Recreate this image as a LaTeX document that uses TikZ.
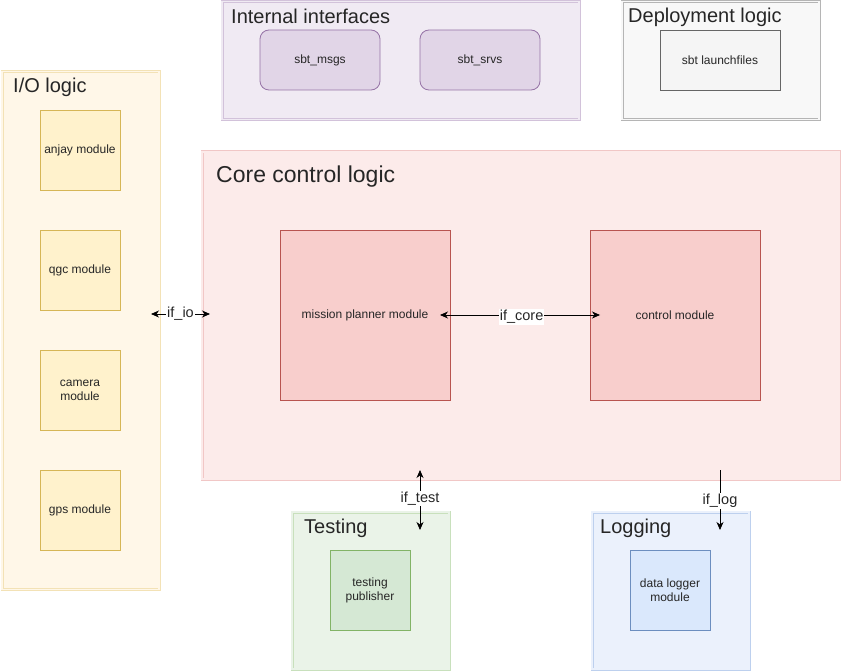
\documentclass[tikz,border=0pt]{standalone}
\usepackage{fontspec}
\setmainfont{Liberation Sans}
\usetikzlibrary{arrows.meta}
\definecolor{igF}{HTML}{F0EAF3}\definecolor{igB}{HTML}{D2C2DA}
\definecolor{dgF}{HTML}{F8F8F8}\definecolor{dgB}{HTML}{B5B5B5}
\definecolor{ioF}{HTML}{FFF7E8}\definecolor{ioB}{HTML}{F3E2B6}
\definecolor{coF}{HTML}{FCEBEA}\definecolor{coB}{HTML}{F1C7C6}
\definecolor{teF}{HTML}{EAF3E8}\definecolor{teB}{HTML}{C8E0BC}
\definecolor{loF}{HTML}{EBF1FC}\definecolor{loB}{HTML}{BDD0EE}
\definecolor{puF}{HTML}{E1D5E7}\definecolor{puB}{HTML}{9673A6}
\definecolor{grF}{HTML}{F5F5F5}\definecolor{grB}{HTML}{666666}
\definecolor{yeF}{HTML}{FFF2CC}\definecolor{yeB}{HTML}{D6B656}
\definecolor{reF}{HTML}{F8CECC}\definecolor{reB}{HTML}{B85450}
\definecolor{gnF}{HTML}{D5E8D4}\definecolor{gnB}{HTML}{82B366}
\definecolor{blF}{HTML}{DAE8FC}\definecolor{blB}{HTML}{6C8EBF}
\tikzset{
  grp/.style 2 args={draw=#2, fill=#1, double=#1, double distance=1.6pt, line width=0.7pt, inner sep=0pt},
  mod/.style 2 args={draw=#2, fill=#1, line width=0.8pt, inner sep=2pt, align=center, font=\fontsize{12}{14}\selectfont, text=black!85},
  gtitle/.style={anchor=base west, inner sep=0pt, font=\fontsize{20}{23}\selectfont, text=black!85},
  elab/.style={fill=white, inner sep=1pt, font=\fontsize{14.5}{16}\selectfont, text=black!85},
  conn/.style={line width=0.8pt, black},
  tip/.tip={Stealth[length=8pt,width=7pt,inset=2.5pt]}
}
\begin{document}
\begin{tikzpicture}[x=1pt,y=-1pt]
\useasboundingbox[fill=white] (0,0) rectangle (841,671);
% groups
\node[grp={igF}{igB}, minimum width=357pt, minimum height=118pt] (gint) at (400.5,60.5) {};
\node[grp={dgF}{dgB}, minimum width=197pt, minimum height=118pt] (gdep) at (720.5,60.5) {};
\node[grp={ioF}{ioB}, minimum width=157pt, minimum height=518pt] (gio) at (80.5,330.5) {};
\node[grp={coF}{coB}, minimum width=637pt, minimum height=327pt] (gcore) at (520.5,315.5) {};
\node[grp={teF}{teB}, minimum width=157pt, minimum height=157pt] (gtest) at (370.5,590.5) {};
\node[grp={loF}{loB}, minimum width=157pt, minimum height=157pt] (glog) at (670.5,590.5) {};
% titles
\node[gtitle] (tint) at (231,24) {Internal interfaces};
\node[gtitle] (tdep) at (628,23) {Deployment logic};
\node[gtitle] (tio) at (13,93) {I/O logic};
\node[gtitle, font=\fontsize{23}{26}\selectfont] (tcore) at (216,183) {Core control logic};
\node[gtitle] (ttest) at (304,533) {Testing};
\node[gtitle] (tlog) at (600,533) {Logging};
% modules
\node[mod={puF}{puB}, rounded corners=9pt, minimum width=120pt, minimum height=60pt] (msgs) at (320,60) {sbt\_msgs};
\node[mod={puF}{puB}, rounded corners=9pt, minimum width=120pt, minimum height=60pt] (srvs) at (480,60) {sbt\_srvs};
\node[mod={grF}{grB}, minimum width=120pt, minimum height=60pt] (launch) at (720,60) {sbt launchfiles};
\node[mod={yeF}{yeB}, minimum width=80pt, minimum height=80pt] (anjay) at (80,150) {anjay module};
\node[mod={yeF}{yeB}, minimum width=80pt, minimum height=80pt] (qgc) at (80,270) {qgc module};
\node[mod={yeF}{yeB}, minimum width=80pt, minimum height=80pt] (camera) at (80,390) {camera\\module};
\node[mod={yeF}{yeB}, minimum width=80pt, minimum height=80pt] (gps) at (80,510) {gps module};
\node[mod={reF}{reB}, minimum width=170pt, minimum height=170pt] (mission) at (365,315) {mission planner module};
\node[mod={reF}{reB}, minimum width=170pt, minimum height=170pt] (control) at (675,315) {control module};
\node[mod={gnF}{gnB}, minimum width=80pt, minimum height=80pt] (testpub) at (370,590) {testing\\publisher};
\node[mod={blF}{blB}, minimum width=80pt, minimum height=80pt] (logger) at (670,590) {data logger\\module};
% connector end points
\coordinate (ioL) at (151,314);
\coordinate (ioR) at (210,314);
\coordinate (coreL) at (440,315);
\coordinate (coreR) at (600,315);
\coordinate (testT) at (420,470);
\coordinate (testB) at (420,530);
\coordinate (logT) at (720,470);
\coordinate (logB) at (720,530);
% connectors
\draw[conn, {tip}-{tip}] (ioL) -- node[elab] (lio) {if\_io} (ioR);
\draw[conn, {tip}-{tip}] (coreL) -- node[elab, pos=0.51, yshift=-2pt] (lcore) {if\_core} (coreR);
\draw[conn, {tip}-{tip}] (testT) -- node[elab, pos=0.48] (ltest) {if\_test} (testB);
\draw[conn, -{tip}] (logT) -- node[elab, pos=0.52] (llog) {if\_log} (logB);
\end{tikzpicture}
\end{document}
